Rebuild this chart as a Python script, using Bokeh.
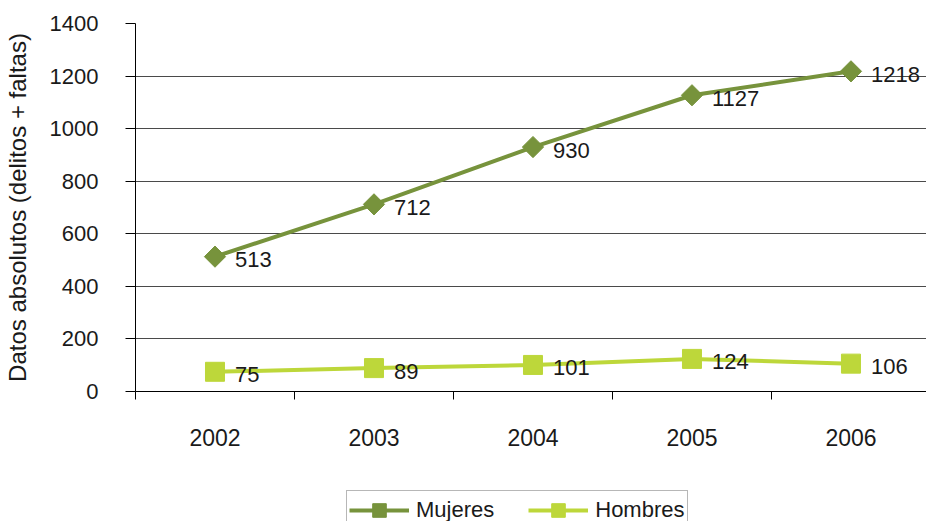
import math
from bokeh.plotting import figure
from bokeh.layouts import column
from bokeh.models import Range1d, FixedTicker, Legend, LegendItem, ColumnDataSource
from bokeh.core.properties import value
from bokeh.embed import file_html
from bokeh.resources import INLINE

years = ["2002", "2003", "2004", "2005", "2006"]
mujeres = [513, 712, 930, 1127, 1218]
hombres = [75, 89, 101, 124, 106]
y_ticks = [0, 200, 400, 600, 800, 1000, 1200, 1400]

xi = list(range(len(years)))
FONT = "Liberation Sans"
TXT = "#1a1a1a"
C_M = "#77933C"
C_H = "#BDD73A"

p = figure(width=926, height=490, output_backend="svg", toolbar_location=None,
           x_range=Range1d(-0.5, 4.475), y_range=Range1d(0, 1400),
           min_border_left=135, min_border_right=0, min_border_top=23, min_border_bottom=99)
p.outline_line_color = None
p.background_fill_color = "white"

# grids
p.xgrid.grid_line_color = None
p.ygrid.grid_line_color = "#4a4a4a"
p.ygrid.grid_line_width = 1
p.ygrid.ticker = FixedTicker(ticks=y_ticks)

# y axis
p.yaxis.ticker = FixedTicker(ticks=y_ticks)
p.yaxis.axis_line_color = "black"
p.yaxis.major_tick_line_color = "black"
p.yaxis.major_tick_out = 10
p.yaxis.major_tick_in = 0
p.yaxis.minor_tick_line_color = None
p.yaxis.major_label_text_font = FONT
p.yaxis.major_label_text_font_size = "22px"
p.yaxis.major_label_text_color = TXT
p.yaxis.major_label_standoff = 27
p.yaxis.axis_label = "Datos absolutos (delitos + faltas)"
p.yaxis.axis_label_text_font = FONT
p.yaxis.axis_label_text_font_size = "24px"
p.yaxis.axis_label_text_font_style = "normal"
p.yaxis.axis_label_text_color = TXT
p.yaxis.axis_label_standoff = 16

# x axis: labels at category centres, tick marks at boundaries
bounds = [i - 0.5 for i in range(len(years) + 1)]
p.xaxis.ticker = FixedTicker(ticks=xi, minor_ticks=bounds)
p.xaxis.major_label_overrides = {i: y for i, y in zip(xi, years)}
p.xaxis.axis_line_color = "black"
p.xaxis.major_tick_line_color = None
p.xaxis.major_tick_out = 0
p.xaxis.major_tick_in = 0
p.xaxis.minor_tick_line_color = "black"
p.xaxis.minor_tick_out = 8
p.xaxis.minor_tick_in = 0
p.xaxis.major_label_text_font = FONT
p.xaxis.major_label_text_font_size = "23px"
p.xaxis.major_label_text_color = TXT
p.xaxis.major_label_standoff = 29

src = ColumnDataSource(dict(x=xi, m=mujeres, h=hombres,
                            ml=[str(v) for v in mujeres], hl=[str(v) for v in hombres]))

def draw_series(fig, source):
    lm = fig.line("x", "m", source=source, line_color=C_M, line_width=4)
    sm = fig.scatter("x", "m", source=source, marker="square", size=15, angle=math.pi / 4,
                     fill_color=C_M, line_color=C_M)
    lh = fig.line("x", "h", source=source, line_color=C_H, line_width=4)
    sh = fig.scatter("x", "h", source=source, marker="square", size=19,
                     fill_color=C_H, line_color=C_H)
    return lm, sm, lh, sh

draw_series(p, src)

p.text("x", "m", text="ml", source=src, x_offset=20, y_offset=3,
       text_font=value(FONT), text_font_size="22px", text_color=TXT,
       text_align="left", text_baseline="middle")
p.text("x", "h", text="hl", source=src, x_offset=20, y_offset=3,
       text_font=value(FONT), text_font_size="22px", text_color=TXT,
       text_align="left", text_baseline="middle")

# legend strip (its series are drawn outside the visible ranges)
pl = figure(width=926, height=31, output_backend="svg", toolbar_location=None,
            x_axis_type=None, y_axis_type=None,
            x_range=Range1d(-10, -9), y_range=Range1d(-10, -9),
            min_border_left=0, min_border_right=0, min_border_top=0, min_border_bottom=0)
pl.outline_line_color = None
pl.xgrid.grid_line_color = None
pl.ygrid.grid_line_color = None
lm, sm, lh, sh = draw_series(pl, src)

legend = Legend(items=[LegendItem(label="Mujeres", renderers=[lm, sm]),
                       LegendItem(label="Hombres", renderers=[lh, sh])],
                orientation="horizontal", location=(211, -9))
legend.margin = 0
legend.padding = 2
legend.spacing = 34
legend.glyph_width = 60
legend.glyph_height = 34
legend.label_height = 24
legend.label_standoff = 7
legend.label_text_font = FONT
legend.label_text_font_size = "22px"
legend.label_text_color = TXT
legend.border_line_color = "#707070"
legend.border_line_width = 1
legend.background_fill_color = "white"
pl.add_layout(legend, "center")

layout = column(p, pl, spacing=0)
open("out.html", "w").write(file_html(layout, INLINE))
